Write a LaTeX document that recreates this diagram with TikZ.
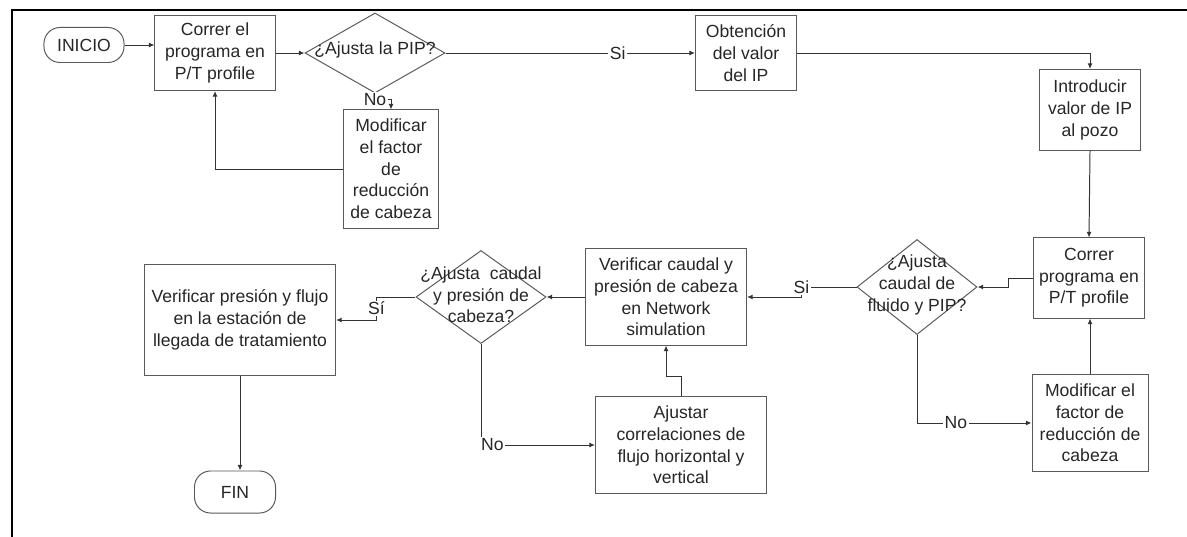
\documentclass[tikz,border=0pt]{standalone}
\usepackage{fontspec}
\setmainfont{Liberation Sans}
\usetikzlibrary{shapes.geometric,arrows.meta}

\begin{document}
\begin{tikzpicture}[x=0.025cm, y=-0.025cm,
    box/.style={draw=black!65, line width=0.7pt, rectangle, align=center, inner sep=2pt, text=black!85},
    term/.style={box, rounded corners=0.4cm},
    decision/.style={draw=black!65, line width=0.7pt, diamond, inner sep=0pt},
    dtext/.style={align=center, text=black!85, inner sep=0pt},
    arr/.style={draw=black!80, line width=0.7pt, -{Latex[length=4pt,width=3.5pt]}},
    lbl/.style={fill=white, inner sep=1pt, text=black!85},
    font=\fontsize{12.5pt}{15.4pt}\selectfont]
      \useasboundingbox (0,0) rectangle (1187,537);
      \draw[line width=1.1pt] (1187,10) -- (12,10) -- (12,537);

      \node[term, minimum width=2cm, minimum height=0.875cm] (ini) at (84,45) {INICIO};
      \node[box, minimum width=3cm, minimum height=1.875cm] (c1) at (215,53) {Correr el\\programa en\\P/T profile};
      \node[decision, minimum width=3.5cm, minimum height=2cm] (d1) at (375,53) {};
      \node[dtext] (d1t) at (375,50) {¿Ajusta la PIP?};
      \node[box, minimum width=2.375cm, minimum height=2.95cm] (m1) at (391,169) {Modificar\\el factor\\de\\reducción\\de cabeza};
      \node[box, minimum width=2.525cm, minimum height=1.875cm] (ob) at (746,53) {Obtención\\del valor\\del IP};
      \node[box, minimum width=2.525cm, minimum height=2.025cm] (ip) at (1090,110) {Introducir\\valor de IP\\al pozo};

      \node[box, minimum width=2.775cm, minimum height=2cm] (c2) at (1089,278) {Correr\\programa en\\P/T profile};
      \node[decision, minimum width=3cm, minimum height=2.375cm] (d2) at (917,287) {};
      \node[dtext] (d2t) at (917,285) {¿Ajusta\\caudal de\\fluido y PIP?};
      \node[box, minimum width=2.9cm, minimum height=2.4cm] (m2) at (1090,423) {Modificar el\\factor de\\reducción de\\cabeza};
      \node[box, minimum width=4.025cm, minimum height=2.4cm] (vc) at (666,297) {Verificar caudal y\\presión de cabeza\\en Network\\simulation};
      \node[decision, minimum width=3.25cm, minimum height=2.325cm] (d3) at (481,297) {};
      \node[dtext] (d3t) at (481,295) {¿Ajusta\ \ caudal\\y presión de\\cabeza?};
      \node[box, minimum width=4.275cm, minimum height=2.4cm] (aj) at (681,445) {Ajustar\\correlaciones de\\flujo horizontal y\\vertical};
      \node[box, minimum width=4.775cm, minimum height=2.775cm] (vp) at (240,320) {Verificar presión y flujo\\en la estación de\\llegada de tratamiento};
      \node[term, minimum width=2.025cm, minimum height=1.05cm] (fin) at (235,492) {FIN};

      \draw[arr] (ini.east) -- (ini.east -| c1.west);
      \draw[arr] (c1.east) -- (d1.west);
      \draw[arr] (d1.south) -- ++(0,6) node[lbl]{No} -| (m1.north);
      \draw[arr] (m1.west) -| (c1.south);
      \draw[arr] (d1.east) -- node[lbl, pos=0.69]{Si} (ob.west);
      \draw[arr] (ob.east) -| (ip.north);
      \draw[arr] (ip.south) -- (c2.north);
      \draw[arr] (c2.west) -- ++(-25,0) |- (d2.east);
      \draw[arr] (m2.north) -- (m2.north |- c2.south);
      \draw[arr] (d2.south) |- node[lbl, pos=0.67]{No} (m2.west);
      \draw[arr] (d2.west) -- ++(-55,0) node[lbl]{Si} |- (vc.east);
      \draw[arr] (vc.west) -- (d3.east);
      \draw[arr] (aj.north) -- ++(0,-20) -| (vc.south);
      \draw[arr] (d3.south) |- node[lbl, pos=0.55]{No} (aj.west);
      \draw[arr] (d3.west) -- ++(-39,0) |- node[lbl, pos=0.25]{Sí} (vp.east);
      \draw[arr] (vp.south) -- (vp.south |- fin.north);
\end{tikzpicture}
\end{document}
